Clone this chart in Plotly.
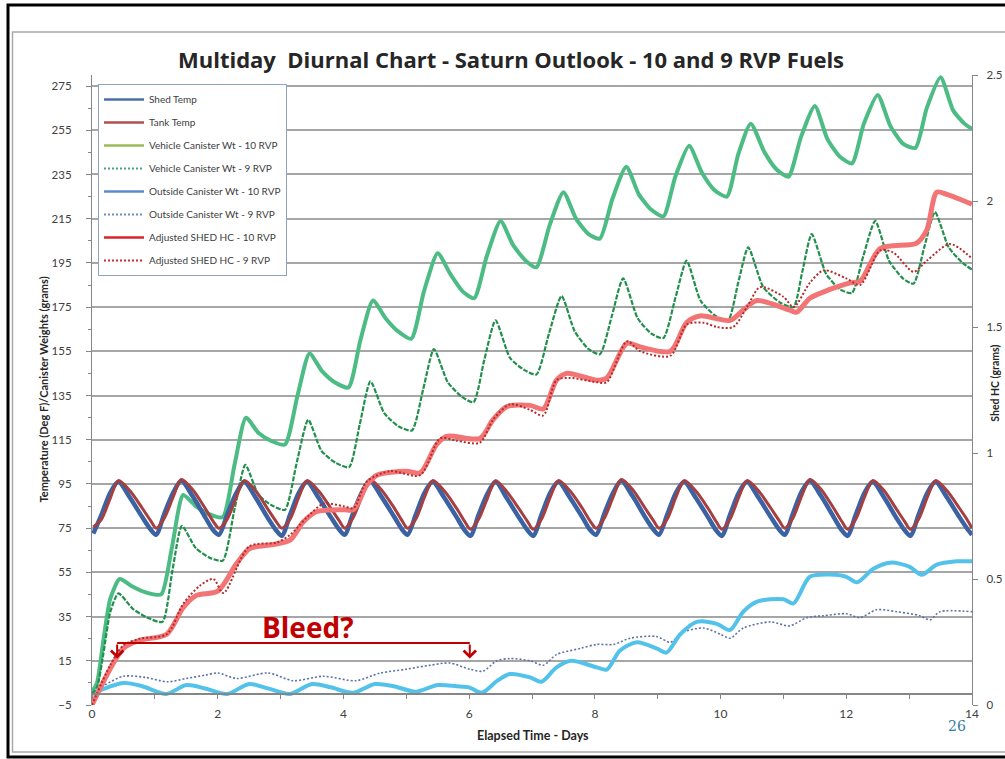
import plotly.graph_objects as go

# ---------------- data ----------------
DAYS = [0, 1, 2, 3, 4, 5, 6, 7, 8, 9, 10, 11, 12, 13]
TEMP_OFFSETS = [0.02, 0.15, 0.29, 0.42, 0.60, 0.80, 0.93]

SHED_TEMP_BY_DAY = [
    [72.5, 81.0, 91.0, 96.0, 89.0, 80.0, 74.5],
    [72.0, 81.5, 91.0, 96.5, 89.5, 80.0, 74.0],
    [72.0, 81.0, 90.5, 96.0, 89.0, 79.5, 74.0],
    [71.5, 81.0, 91.0, 96.0, 89.0, 80.0, 74.5],
    [72.0, 81.5, 91.0, 96.5, 89.5, 80.5, 74.5],
    [72.0, 81.0, 91.0, 96.0, 89.0, 80.0, 74.0],
    [71.5, 81.0, 90.5, 96.0, 88.5, 79.5, 74.0],
    [71.5, 81.0, 91.0, 96.0, 89.0, 80.0, 74.0],
    [72.0, 81.5, 91.0, 96.5, 89.5, 80.0, 74.5],
    [72.0, 81.0, 91.0, 96.0, 89.0, 80.0, 74.0],
    [71.5, 81.0, 91.0, 96.0, 89.0, 80.0, 74.5],
    [72.0, 81.5, 91.5, 96.5, 89.5, 80.0, 74.0],
    [71.5, 81.0, 91.0, 96.0, 89.0, 79.5, 74.0],
    [71.5, 81.0, 91.0, 96.0, 89.0, 80.0, 74.5],
]
SHED_TEMP_END = 72.0

TANK_TEMP_BY_DAY = [
    [75.5, 79.0, 88.5, 96.5, 92.0, 84.0, 78.5],
    [75.0, 79.5, 89.0, 97.0, 92.5, 84.0, 78.0],
    [75.0, 79.0, 88.5, 96.5, 92.0, 83.5, 78.0],
    [75.0, 79.0, 89.0, 96.5, 92.0, 84.0, 78.5],
    [75.0, 79.5, 89.0, 97.0, 92.5, 84.5, 78.5],
    [75.0, 79.0, 89.0, 96.5, 92.0, 84.0, 78.0],
    [74.5, 79.0, 88.5, 96.5, 91.5, 83.5, 78.0],
    [74.5, 79.0, 89.0, 96.5, 92.0, 84.0, 78.0],
    [75.0, 79.5, 89.0, 97.0, 92.5, 84.0, 78.5],
    [75.0, 79.0, 89.0, 96.5, 92.0, 84.0, 78.0],
    [74.5, 79.0, 89.0, 96.5, 92.0, 84.0, 78.5],
    [75.0, 79.5, 89.5, 97.0, 92.5, 84.0, 78.0],
    [74.5, 79.0, 89.0, 96.5, 92.0, 83.5, 78.0],
    [74.5, 79.0, 89.0, 96.5, 92.0, 84.0, 78.5],
]
TANK_TEMP_END = 75.0

VEH10_DAY = [0.00, 0.08, 0.18, 0.29, 0.44, 0.65, 0.85, 1.10, 1.27, 1.45, 1.65, 1.85, 2.08,
             2.27, 2.45, 2.65, 2.85, 3.07, 3.27, 3.46, 3.66, 3.86, 4.08, 4.27, 4.47, 4.67,
             4.87, 5.08, 5.28, 5.50, 5.70, 5.90, 6.08, 6.28, 6.50, 6.70, 6.90, 7.07, 7.28,
             7.50, 7.70, 7.90, 8.08, 8.28, 8.50, 8.70, 8.90, 9.09, 9.28, 9.50, 9.70, 9.90,
             10.10, 10.28, 10.48, 10.70, 10.90, 11.08, 11.28, 11.50, 11.70, 11.90, 12.09,
             12.28, 12.50, 12.70, 12.90, 13.10, 13.28, 13.50, 13.70, 13.88, 14.00]
VEH10_VAL = [1, 5, 24, 43, 52, 48.5, 46, 45, 66, 90, 85, 81.5, 80,
             104, 125, 118, 114.5, 112.8, 135, 154, 146, 141, 138.6, 160, 178, 170,
             164, 160.7, 182, 199.4, 190, 182, 179, 198, 214, 203, 196, 193, 212,
             227, 215, 208, 206, 224, 238.5, 226, 219, 216, 234, 248, 236, 228,
             225, 244, 258, 245, 237, 234, 252, 266, 251, 243, 240,
             258, 271, 257, 249, 247, 265, 279, 264, 258, 255.6]

VEH9_DAY = [0.00, 0.08, 0.18, 0.29, 0.42, 0.65, 0.88, 1.12, 1.28, 1.43, 1.65, 1.88, 2.08,
            2.27, 2.44, 2.65, 2.88, 3.07, 3.26, 3.44, 3.65, 3.88, 4.09, 4.26, 4.43, 4.65,
            4.88, 5.09, 5.27, 5.44, 5.66, 5.88, 6.07, 6.24, 6.42, 6.65, 6.88, 7.07, 7.27,
            7.47, 7.68, 7.90, 8.08, 8.27, 8.45, 8.68, 8.90, 9.09, 9.28, 9.46, 9.68, 9.92,
            10.12, 10.28, 10.44, 10.68, 10.95, 11.16, 11.30, 11.45, 11.68, 11.90, 12.09,
            12.27, 12.46, 12.68, 12.90, 13.07, 13.24, 13.41, 13.63, 13.85, 14.00]
VEH9_VAL = [0, 3, 18, 37, 45.5, 38.5, 34.5, 32.6, 56, 76, 66, 61.5, 60.3,
            84, 103.6, 90, 85, 83.3, 105, 124, 110, 104.5, 102.6, 122, 141.4, 127,
            121, 119.2, 138, 156, 141, 134.5, 132, 151, 169, 152, 146.5, 144.5, 163,
            180, 164, 156, 153.7, 171, 188, 170, 163, 161, 179, 196, 178, 171,
            169, 186, 202, 184, 177, 175, 191, 208, 190, 183, 181.4,
            198, 214, 196, 188, 185.6, 202, 218, 202, 195, 192]

OUT10_DAY = [0.00, 0.25, 0.50, 0.80, 1.18, 1.50, 1.80, 2.15, 2.50, 2.80, 3.15, 3.50, 3.80,
             4.15, 4.50, 4.80, 5.15, 5.50, 5.80, 6.00, 6.20, 6.45, 6.65, 6.97, 7.15, 7.39,
             7.62, 8.03, 8.19, 8.40, 8.67, 8.98, 9.14, 9.36, 9.62, 9.94, 10.15, 10.36,
             10.58, 11.00, 11.16, 11.42, 11.74, 12.00, 12.17, 12.43, 12.70, 13.01, 13.20,
             13.44, 13.76, 14.00]
OUT10_VAL = [0, 3, 5, 3.5, 0, 4, 2.5, 0, 4.5, 2.5, 0, 4.5, 3,
             0.5, 4.5, 3.5, 1, 4, 3.5, 3, 0.5, 6, 9, 7.5, 5.5, 12,
             15, 12, 11, 19.7, 23.4, 20.6, 18.7, 27, 32.6, 31.7, 28.9, 37.2,
             41.8, 42.8, 41, 53, 54, 53, 50.5, 56.6, 59.4, 57.5, 53.9,
             58.5, 60, 60]

OUT9_DAY = [0.00, 0.20, 0.50, 0.85, 1.20, 1.50, 1.80, 2.00, 2.30, 2.80, 3.20, 3.68, 4.20,
            4.58, 5.00, 5.38, 5.69, 6.01, 6.22, 6.44, 6.65, 6.97, 7.18, 7.39, 7.77, 8.03,
            8.30, 8.56, 8.98, 9.20, 9.41, 9.73, 10.00, 10.15, 10.36, 10.79, 11.10, 11.37,
            11.64, 12.00, 12.22, 12.48, 12.80, 13.17, 13.33, 13.49, 14.00]
OUT9_VAL = [0, 4, 8, 7.5, 5.5, 7, 8.5, 9.5, 7, 9.5, 6, 8, 6,
            9.4, 11.2, 13, 14, 11.2, 10.3, 15, 16, 15, 13, 17.8, 20.6, 22.4,
            22.4, 25.2, 26, 23.4, 28, 29.8, 27, 25.2, 29.8, 32.6, 30.8, 34.5,
            35.4, 36.3, 34.5, 38.1, 37.2, 35.4, 33.5, 37.2, 37.2]

ADJ10_DAY = [0.00, 0.29, 0.50, 0.76, 1.19, 1.45, 1.66, 2.00, 2.30, 2.51, 2.88, 3.15, 3.36,
             3.57, 4.00, 4.16, 4.37, 4.53, 5.00, 5.22, 5.48, 5.64, 6.17, 6.38, 6.60, 6.97,
             7.18, 7.39, 7.55, 8.03, 8.19, 8.51, 8.72, 9.20, 9.46, 9.67, 10.15, 10.36,
             10.58, 11.10, 11.21, 11.42, 11.74, 12.06, 12.22, 12.54, 13.12, 13.28, 13.44,
             13.60, 14.00]
ADJ10_VAL = [0.0, 0.144, 0.225, 0.257, 0.281, 0.386, 0.435, 0.452, 0.561, 0.621, 0.637,
             0.654, 0.726, 0.767, 0.775, 0.775, 0.872, 0.912, 0.928, 0.921, 1.033, 1.066,
             1.058, 1.132, 1.184, 1.189, 1.175, 1.289, 1.316, 1.289, 1.298, 1.435, 1.421,
             1.404, 1.518, 1.544, 1.526, 1.567, 1.605, 1.567, 1.559, 1.614, 1.649, 1.675,
             1.682, 1.811, 1.833, 1.884, 2.035, 2.026, 1.987]

ADJ9_DAY = [0.00, 0.29, 0.50, 0.76, 1.19, 1.45, 1.72, 1.93, 2.09, 2.50, 2.94, 3.15, 3.41,
            3.68, 4.00, 4.16, 4.37, 4.74, 5.22, 5.54, 5.80, 6.17, 6.38, 6.65, 6.97, 7.18,
            7.39, 7.60, 8.03, 8.19, 8.51, 8.72, 9.20, 9.46, 9.73, 9.94, 10.20, 10.42,
            10.63, 11.00, 11.16, 11.42, 11.64, 12.00, 12.22, 12.54, 12.75, 13.07, 13.28,
            13.65, 14.00]
ADJ9_VAL = [0.0, 0.158, 0.237, 0.263, 0.281, 0.401, 0.474, 0.500, 0.444, 0.629, 0.645,
            0.675, 0.742, 0.798, 0.789, 0.781, 0.886, 0.928, 0.912, 1.058, 1.049, 1.041,
            1.132, 1.193, 1.171, 1.149, 1.289, 1.298, 1.281, 1.281, 1.443, 1.404, 1.386,
            1.509, 1.517, 1.500, 1.500, 1.579, 1.658, 1.620, 1.579, 1.675, 1.725, 1.693,
            1.667, 1.804, 1.795, 1.719, 1.763, 1.829, 1.772]

SERIES_NAMES = ["Shed Temp", "Tank Temp", "Vehicle Canister Wt - 10 RVP",
                "Vehicle Canister Wt - 9 RVP", "Outside Canister Wt - 10 RVP",
                "Outside Canister Wt - 9 RVP", "Adjusted SHED HC - 10 RVP",
                "Adjusted SHED HC - 9 RVP"]

TITLE = "Multiday\u00a0 Diurnal Chart - Saturn Outlook - 10 and 9 RVP Fuels"
Y_TITLE = "Temperature (Deg F)/Canister Weights (grams)"
Y2_TITLE = "Shed HC (grams)"
X_TITLE = "Elapsed Time - Days"
BLEED_TEXT = "Bleed?"
BLEED_START, BLEED_END = 0.40, 6.01
BLEED_LEVEL, BLEED_TIP, BLEED_TEXT_Y = 23.0, 16.0, 30.5
PAGE_NO = "26"

# ---------------- build ----------------
temp_x = [d + o for d in DAYS for o in TEMP_OFFSETS] + [14.0]
shed_y = [v for row in SHED_TEMP_BY_DAY for v in row] + [SHED_TEMP_END]
tank_y = [v for row in TANK_TEMP_BY_DAY for v in row] + [TANK_TEMP_END]

FONT = "Lato, 'Open Sans', Arial, sans-serif"
WIDE = "'Open Sans', Lato, Arial, sans-serif"
fig = go.Figure()

# legend-only entries (legend colours differ from the drawn line colours in the source)
legend_styles = [
    dict(color="#4a6fa6", width=2.5, dash="solid"),
    dict(color="#b0504e", width=2.5, dash="solid"),
    dict(color="#9bbb59", width=2.5, dash="solid"),
    dict(color="#4aa07c", width=2, dash="2px,2px"),
    dict(color="#5a8ccc", width=2.5, dash="solid"),
    dict(color="#6f8cbf", width=2, dash="2px,2px"),
    dict(color="#d9242a", width=2.5, dash="solid"),
    dict(color="#d9242a", width=2, dash="2px,2px"),
]
for i, (nm, ls) in enumerate(zip(SERIES_NAMES, legend_styles)):
    fig.add_trace(go.Scatter(x=[None], y=[None], mode="lines", name=nm, line=ls,
                             legendgroup=f"g{i}", xaxis="x2", yaxis="y",
                             hoverinfo="skip"))

def line(x, y, color, width, dash="solid", yaxis="y", smooth=0.8):
    fig.add_trace(go.Scatter(x=x, y=y, mode="lines", showlegend=False, yaxis=yaxis,
                             line=dict(color=color, width=width, dash=dash,
                                       shape="spline", smoothing=smooth)))

line(OUT9_DAY, OUT9_VAL, "#5a72a6", 1.6, "2px,2px")
line(OUT10_DAY, OUT10_VAL, "#52c2ea", 4)
line(VEH10_DAY, VEH10_VAL, "#4cbb84", 4, smooth=0.6)
line(VEH9_DAY, VEH9_VAL, "#238f4d", 2.2, "5px,1.5px", smooth=0.6)
line(temp_x, shed_y, "#3b62a3", 4.5)
line(temp_x, tank_y, "#a63f3f", 3)
line(ADJ10_DAY, ADJ10_VAL, "#f27474", 5, yaxis="y2")
line(ADJ9_DAY, ADJ9_VAL, "#b52a2a", 2, "2px,2px", yaxis="y2")

AX = "#868686"
fig.update_layout(
    width=1005, height=759,
    margin=dict(l=92, r=33, t=75, b=54, autoexpand=False),
    paper_bgcolor="white", plot_bgcolor="white",
    font=dict(family=FONT, size=12, color="#404040"),
    title=dict(text=TITLE, x=511 / 1005, y=1 - 60 / 759, xref="container", yref="container",
               xanchor="center", yanchor="middle", automargin=False,
               font=dict(family=WIDE, size=22, color="#262626", weight="bold")),
    legend=dict(x=0.0068, y=0.9857, xanchor="left", yanchor="top", bgcolor="white",
                bordercolor="#8ea3c2", borderwidth=1, tracegroupgap=4, itemwidth=40,
                font=dict(family=FONT, size=10, color="#404040")),
    xaxis=dict(range=[0, 14], tick0=0, dtick=2, showgrid=False, showline=False,
               zeroline=False, ticks="", automargin=False,
               tickfont=dict(size=12, color="#404040")),
    xaxis2=dict(overlaying="x", anchor="free", position=5 / 285, range=[0, 14],
                tick0=0, dtick=1, ticks="outside", ticklen=4, tickcolor=AX,
                showticklabels=False, showline=True, linecolor=AX, linewidth=1.5,
                showgrid=False, zeroline=False, automargin=False),
    yaxis=dict(range=[-5, 280], tick0=-5, dtick=20, showgrid=True, gridcolor="#a6a6a6",
               gridwidth=1.5, showline=True, linecolor=AX, linewidth=1.2, zeroline=False,
               ticks="outside", ticklen=5, tickcolor=AX, ticklabelstandoff=12,
               automargin=False, tickfont=dict(size=11.5, color="#404040"),
               minor=dict(tick0=-5, dtick=10, ticks="outside", ticklen=3, tickcolor=AX,
                          showgrid=False)),
    yaxis2=dict(overlaying="y", side="right", range=[0, 2.5], tick0=0, dtick=0.5,
                showgrid=False, zeroline=False, showline=True, linecolor=AX, linewidth=1.2,
                ticks="outside", ticklen=5, tickcolor=AX, ticklabelstandoff=6,
                automargin=False, tickfont=dict(size=11.5, color="#404040")),
)

def px_x(px):
    return (px - 92) / 880

def px_y(py):
    return (705 - py) / 630

# frames (slide border and chart-area border)
fig.add_shape(type="rect", xref="paper", yref="paper", x0=px_x(12.5), x1=px_x(1012),
              y0=px_y(752), y1=px_y(32), line=dict(color="#a8a8a8", width=1.5),
              layer="below")
fig.add_shape(type="rect", xref="paper", yref="paper", x0=px_x(8), x1=px_x(1015),
              y0=px_y(757), y1=px_y(5), line=dict(color="black", width=3), layer="above")

# axis titles
fig.add_annotation(text=Y_TITLE, xref="paper", yref="paper", x=px_x(34), y=0.5,
                   textangle=-90, showarrow=False,
                   font=dict(family=FONT, size=11, color="#262626", weight="bold"))
fig.add_annotation(text=Y2_TITLE, xref="paper", yref="paper", x=px_x(1003), y=0.51,
                   textangle=-90, showarrow=False,
                   font=dict(family=FONT, size=10.5, color="#262626", weight="bold"))
fig.add_annotation(text=X_TITLE, xref="paper", yref="paper", x=px_x(533), y=px_y(745),
                   showarrow=False,
                   font=dict(family=FONT, size=12.5, color="#262626", weight="bold"))
fig.add_annotation(text=PAGE_NO, xref="paper", yref="paper", x=px_x(968), y=px_y(736),
                   showarrow=False,
                   font=dict(family="'DejaVu Serif', 'Liberation Serif', serif", size=14,
                             color="#2f7f9f"))

# "Bleed?" bracket
RED = "#c00000"
fig.add_shape(type="line", xref="x", yref="y", x0=BLEED_START, x1=BLEED_END,
              y0=BLEED_LEVEL, y1=BLEED_LEVEL, line=dict(color=RED, width=2))
for bx in (BLEED_START, BLEED_END):
    fig.add_annotation(x=bx, y=BLEED_TIP, ax=bx, ay=BLEED_LEVEL, xref="x", yref="y",
                       axref="x", ayref="y", text="", showarrow=True, arrowhead=4,
                       arrowsize=1.2, arrowwidth=2, arrowcolor=RED)
fig.add_annotation(text=BLEED_TEXT, x=3.43, y=BLEED_TEXT_Y, xref="x", yref="y",
                   showarrow=False,
                   font=dict(family=WIDE, size=28, color=RED, weight="bold"))

fig.write_html("out.html")
